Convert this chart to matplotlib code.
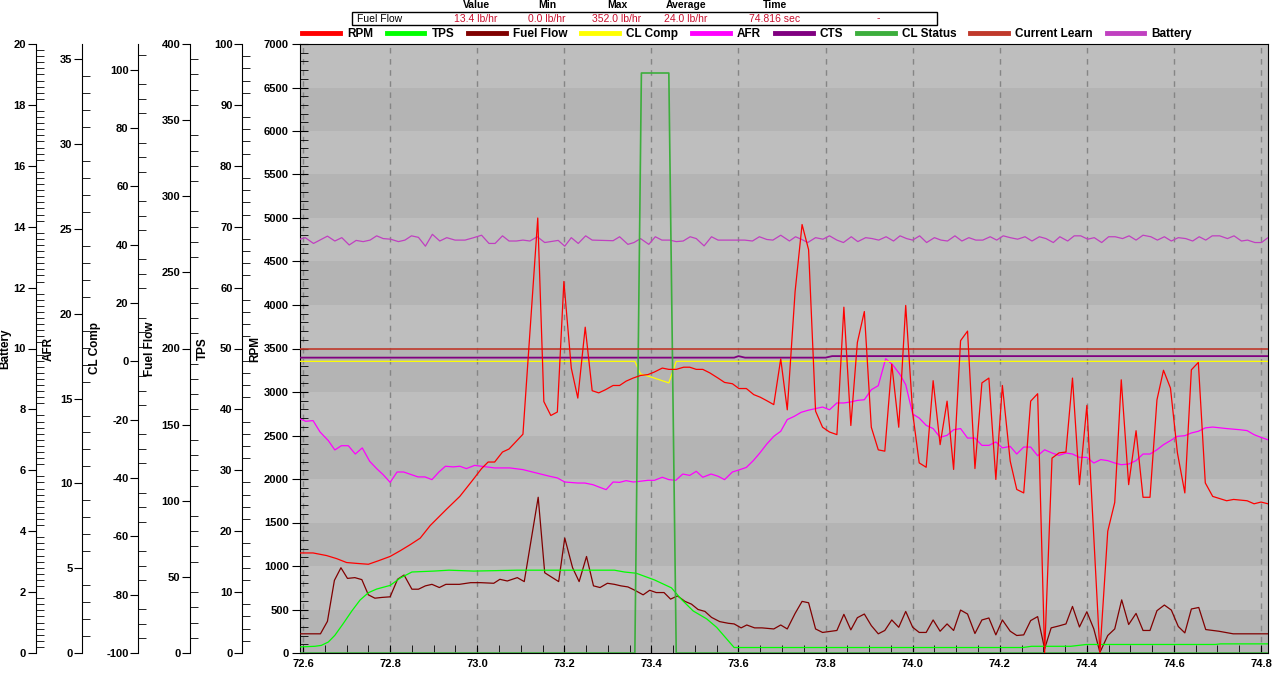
import matplotlib
matplotlib.use("Agg")
import matplotlib.pyplot as plt
from matplotlib.lines import Line2D
from matplotlib.patches import Rectangle
from matplotlib.ticker import MultipleLocator, FormatStrFormatter

plt.rcParams['font.family'] = ['Liberation Sans', 'DejaVu Sans']
plt.rcParams['font.size'] = 8
plt.rcParams['axes.unicode_minus'] = False

# ---- data (time in seconds) ----
rpm_t = [72.593, 72.623, 72.654, 72.677, 72.700, 72.723, 72.750, 72.773, 72.800, 72.823,
         72.846, 72.869, 72.892, 72.929, 72.960, 72.990, 73.010, 73.025, 73.040, 73.058,
         73.073, 73.090, 73.105, 73.139, 73.153, 73.169, 73.184, 73.199, 73.216, 73.231,
         73.248, 73.264, 73.279, 73.294, 73.312, 73.327, 73.342, 73.358, 73.375, 73.392,
         73.407, 73.425, 73.440, 73.457, 73.474, 73.488, 73.503, 73.518, 73.534, 73.553,
         73.568, 73.586, 73.601, 73.618, 73.635, 73.650, 73.665, 73.681, 73.697, 73.712,
         73.730, 73.746, 73.761, 73.777, 73.793, 73.809, 73.826, 73.842, 73.858, 73.873,
         73.889, 73.905, 73.921, 73.936, 73.952, 73.968, 73.984, 74.000, 74.015, 74.031,
         74.047, 74.063, 74.079, 74.094, 74.110, 74.126, 74.143, 74.159, 74.175, 74.191,
         74.206, 74.224, 74.239, 74.255, 74.271, 74.287, 74.303, 74.320, 74.336, 74.352,
         74.367, 74.383, 74.400, 74.430, 74.448, 74.464, 74.479, 74.496, 74.513, 74.529,
         74.545, 74.561, 74.576, 74.592, 74.608, 74.625, 74.640, 74.656, 74.672, 74.689,
         74.721, 74.737, 74.768, 74.784, 74.800, 74.816]
rpm = [1150, 1150, 1120, 1085, 1040, 1030, 1020, 1060, 1110, 1175,
       1245, 1320, 1465, 1650, 1800, 1990, 2120, 2195, 2195, 2310,
       2345, 2435, 2515, 5000, 2890, 2730, 2770, 4270, 3275, 2930,
       3745, 3015, 2990, 3025, 3075, 3075, 3125, 3160, 3190, 3200,
       3230, 3275, 3260, 3260, 3285, 3285, 3260, 3260, 3220, 3160,
       3110, 3095, 3040, 3040, 2970, 2940, 2900, 2855, 3380, 2795,
       4155, 4925, 4635, 2780, 2595, 2540, 2510, 3975, 2615, 3570,
       3925, 2595, 2335, 2320, 3320, 2595, 3995, 2760, 2185, 2135,
       3130, 2395, 2895, 2110, 3590, 3700, 2120, 3105, 3160, 1995,
       3075, 2205, 1880, 1840, 2895, 2980, 0, 2240, 2300, 2310,
       3160, 1935, 2845, 0, 1400, 1730, 3140, 1935, 2555, 1790,
       1790, 2910, 3250, 3045, 2300, 1840, 3255, 3340, 1955, 1800,
       1750, 1765, 1750, 1715, 1735, 1715]

tps_t = [72.593, 72.627, 72.642, 72.658, 72.673, 72.692, 72.712, 72.731, 72.750, 72.769,
         72.800, 72.823, 72.850, 72.900, 72.935, 72.992, 73.092, 73.315, 73.338, 73.365,
         73.407, 73.446, 73.469, 73.496, 73.527, 73.550, 73.573, 73.590, 74.253, 74.273,
         74.363, 74.399, 74.695, 74.707, 74.816]
tps = [1.0, 1.1, 1.25, 1.8, 2.9, 4.8, 6.9, 8.7, 9.9, 10.5,
       11.1, 12.3, 13.3, 13.45, 13.6, 13.45, 13.6, 13.6, 13.3, 13.1,
       12.0, 10.7, 8.8, 6.9, 5.6, 4.2, 2.3, 0.9, 0.9, 1.1,
       1.1, 1.4, 1.4, 1.5, 1.5]

fuel_t = [72.593, 72.640, 72.656, 72.672, 72.687, 72.702, 72.719, 72.735, 72.750, 72.765,
          72.781, 72.800, 72.817, 72.832, 72.850, 72.865, 72.881, 72.896, 72.913, 72.928,
          72.959, 72.985, 73.008, 73.038, 73.052, 73.069, 73.092, 73.108, 73.140, 73.155,
          73.187, 73.201, 73.219, 73.234, 73.251, 73.267, 73.282, 73.299, 73.315, 73.330,
          73.346, 73.362, 73.381, 73.396, 73.411, 73.429, 73.444, 73.460, 73.477, 73.492,
          73.507, 73.523, 73.538, 73.557, 73.577, 73.590, 73.606, 73.619, 73.637, 73.654,
          73.681, 73.697, 73.712, 73.730, 73.746, 73.761, 73.777, 73.793, 73.826, 73.842,
          73.858, 73.873, 73.889, 73.905, 73.921, 73.936, 73.952, 73.968, 73.984, 74.000,
          74.015, 74.031, 74.047, 74.063, 74.079, 74.094, 74.110, 74.126, 74.143, 74.159,
          74.175, 74.191, 74.206, 74.224, 74.239, 74.255, 74.271, 74.287, 74.303, 74.318,
          74.336, 74.352, 74.367, 74.383, 74.400, 74.416, 74.430, 74.448, 74.464, 74.480,
          74.496, 74.513, 74.529, 74.545, 74.561, 74.578, 74.594, 74.610, 74.625, 74.640,
          74.657, 74.673, 74.703, 74.736, 74.816]
fuel = [12.6, 12.6, 20.8, 47.7, 56.0, 49.0, 49.5, 48.2, 38.2, 36.0,
        36.5, 36.9, 48.4, 51.2, 41.9, 41.9, 44.1, 45.1, 43.0, 45.1,
        45.1, 46.2, 46.2, 45.8, 48.4, 47.3, 49.5, 46.9, 102.3, 52.7,
        46.9, 75.5, 56.0, 46.9, 63.4, 44.1, 43.0, 45.8, 45.1, 44.1,
        43.4, 41.2, 38.2, 41.2, 39.7, 39.7, 35.4, 37.5, 33.9, 32.1,
        28.6, 27.3, 23.4, 20.6, 19.5, 19.1, 16.5, 18.4, 16.5, 16.5,
        15.8, 18.4, 15.8, 26.0, 33.9, 33.0, 15.8, 13.5, 14.8, 25.4,
        15.2, 23.2, 25.6, 18.0, 12.6, 14.8, 21.7, 16.9, 27.3, 16.9,
        13.5, 13.5, 21.7, 14.3, 19.1, 14.8, 28.2, 25.6, 12.8, 21.7,
        23.0, 11.9, 21.7, 14.3, 11.5, 11.9, 21.3, 23.9, 2.8, 16.5,
        17.8, 19.1, 30.6, 17.1, 27.1, 15.8, 0.4, 11.5, 15.8, 34.9,
        18.7, 26.0, 14.8, 14.8, 27.8, 31.5, 28.2, 17.4, 13.2, 28.9,
        29.9, 15.4, 14.3, 12.6, 12.6]

afr_t = [72.593, 72.606, 72.623, 72.639, 72.658, 72.673, 72.688, 72.704, 72.720, 72.736,
         72.753, 72.769, 72.784, 72.800, 72.816, 72.831, 72.849, 72.864, 72.880, 72.896,
         72.912, 72.927, 72.945, 72.960, 72.975, 72.994, 73.010, 73.040, 73.075, 73.105,
         73.136, 73.166, 73.184, 73.201, 73.231, 73.247, 73.266, 73.281, 73.296, 73.312,
         73.327, 73.342, 73.358, 73.373, 73.392, 73.407, 73.425, 73.440, 73.456, 73.472,
         73.488, 73.503, 73.518, 73.537, 73.553, 73.568, 73.586, 73.601, 73.618, 73.634,
         73.649, 73.665, 73.681, 73.697, 73.712, 73.728, 73.744, 73.760, 73.777, 73.793,
         73.809, 73.826, 73.842, 73.858, 73.873, 73.889, 73.905, 73.921, 73.938, 73.954,
         73.970, 73.984, 74.000, 74.015, 74.031, 74.047, 74.063, 74.079, 74.094, 74.110,
         74.126, 74.143, 74.159, 74.175, 74.191, 74.206, 74.224, 74.239, 74.255, 74.271,
         74.287, 74.303, 74.320, 74.336, 74.352, 74.367, 74.383, 74.400, 74.416, 74.432,
         74.448, 74.464, 74.479, 74.496, 74.513, 74.529, 74.545, 74.561, 74.576, 74.592,
         74.608, 74.625, 74.640, 74.656, 74.672, 74.689, 74.721, 74.752, 74.768, 74.784,
         74.800, 74.816]
afr = [13.80, 13.66, 13.70, 13.03, 12.52, 11.97, 12.22, 12.22, 11.73, 12.09,
       11.30, 10.87, 10.51, 10.06, 10.67, 10.67, 10.51, 10.38, 10.38, 10.22,
       10.67, 11.01, 10.97, 11.01, 10.87, 11.06, 11.01, 10.91, 10.91, 10.81,
       10.61, 10.42, 10.32, 10.08, 10.02, 10.02, 9.92, 9.77, 9.63, 10.08,
       10.06, 10.16, 10.08, 10.12, 10.18, 10.18, 10.36, 10.22, 10.18, 10.55,
       10.47, 10.71, 10.36, 10.55, 10.42, 10.22, 10.67, 10.79, 10.94, 11.34,
       11.79, 12.32, 12.77, 13.07, 13.76, 13.95, 14.19, 14.31, 14.41, 14.50,
       14.34, 14.74, 14.74, 14.80, 14.89, 14.93, 15.52, 15.76, 17.35, 16.99,
       16.45, 15.82, 14.09, 13.85, 13.42, 13.23, 12.71, 12.83, 13.16, 13.23,
       12.67, 12.67, 12.24, 12.24, 12.44, 12.09, 12.18, 11.73, 12.14, 12.14,
       11.63, 11.98, 11.79, 11.65, 11.79, 11.73, 11.53, 11.53, 11.20, 11.40,
       11.34, 11.20, 11.10, 11.14, 11.34, 11.73, 11.73, 11.98, 12.28, 12.52,
       12.77, 12.81, 12.97, 13.07, 13.27, 13.32, 13.23, 13.16, 13.11, 12.87,
       12.71, 12.57]

battery_t = [72.593, 72.605, 72.624, 72.656, 72.673, 72.689, 72.706, 72.722, 72.738, 72.754,
             72.769, 72.784, 72.801, 72.819, 72.834, 72.849, 72.865, 72.881, 72.897, 72.914,
             72.930, 72.949, 72.972, 72.992, 73.010, 73.027, 73.041, 73.058, 73.073, 73.090,
             73.105, 73.121, 73.138, 73.155, 73.186, 73.201, 73.216, 73.232, 73.249, 73.264,
             73.312, 73.327, 73.346, 73.360, 73.375, 73.394, 73.409, 73.424, 73.442, 73.457,
             73.473, 73.489, 73.503, 73.521, 73.538, 73.553, 73.583, 73.614, 73.632, 73.648,
             73.665, 73.679, 73.697, 73.717, 73.731, 73.744, 73.759, 73.777, 73.794, 73.809,
             73.826, 73.841, 73.859, 73.874, 73.892, 73.907, 73.922, 73.939, 73.956, 73.971,
             73.986, 74.000, 74.016, 74.032, 74.050, 74.065, 74.080, 74.097, 74.113, 74.129,
             74.145, 74.161, 74.178, 74.193, 74.208, 74.224, 74.241, 74.258, 74.274, 74.291,
             74.306, 74.323, 74.338, 74.356, 74.371, 74.386, 74.402, 74.417, 74.434, 74.450,
             74.465, 74.482, 74.497, 74.513, 74.529, 74.547, 74.562, 74.578, 74.594, 74.610,
             74.627, 74.643, 74.658, 74.673, 74.688, 74.705, 74.723, 74.738, 74.755, 74.769,
             74.786, 74.801, 74.816]
battery = [13.59, 13.64, 13.45, 13.69, 13.53, 13.64, 13.40, 13.55, 13.51, 13.56,
           13.70, 13.61, 13.59, 13.51, 13.56, 13.70, 13.65, 13.36, 13.75, 13.53,
           13.64, 13.56, 13.56, 13.64, 13.72, 13.45, 13.45, 13.70, 13.53, 13.53,
           13.56, 13.53, 13.67, 13.48, 13.55, 13.36, 13.64, 13.45, 13.70, 13.56,
           13.54, 13.67, 13.42, 13.48, 13.61, 13.42, 13.67, 13.56, 13.56, 13.51,
           13.53, 13.67, 13.61, 13.37, 13.67, 13.56, 13.56, 13.56, 13.53, 13.67,
           13.58, 13.56, 13.72, 13.53, 13.67, 13.59, 13.48, 13.64, 13.59, 13.70,
           13.56, 13.48, 13.67, 13.51, 13.64, 13.61, 13.56, 13.67, 13.53, 13.70,
           13.61, 13.56, 13.70, 13.48, 13.64, 13.56, 13.53, 13.70, 13.53, 13.64,
           13.56, 13.56, 13.67, 13.56, 13.70, 13.64, 13.59, 13.67, 13.53, 13.67,
           13.61, 13.48, 13.67, 13.53, 13.70, 13.70, 13.59, 13.64, 13.48, 13.67,
           13.67, 13.61, 13.70, 13.56, 13.72, 13.67, 13.56, 13.67, 13.53, 13.64,
           13.61, 13.53, 13.67, 13.56, 13.70, 13.70, 13.61, 13.70, 13.53, 13.56,
           13.48, 13.48, 13.64]

cl_comp_t = [72.593, 73.362, 73.375, 73.404, 73.440, 73.457, 74.816]
cl_comp = [0, 0, -4.3, -5.6, -7.4, 0, 0]

cl_status_t = [72.593, 73.362, 73.377, 73.440, 73.457, 74.816]
cl_status = [0, 0, 1, 1, 0, 0]

cts_t = [72.593, 73.590, 73.600, 73.615, 73.800, 73.815, 74.816]
cts = [194, 194, 195, 194, 194, 195, 195]

learn_t = [72.593, 74.816]
learn = [0, 0]

legend_labels = ['RPM', 'TPS', 'Fuel Flow', 'CL Comp', 'AFR', 'CTS',
                 'CL Status', 'Current Learn', 'Battery']
colors = {'RPM': '#ff0000', 'TPS': '#00ff00', 'Fuel Flow': '#800000',
          'CL Comp': '#ffff00', 'AFR': '#ff00ff', 'CTS': '#800080',
          'CL Status': '#3cae3c', 'Current Learn': '#c0392b', 'Battery': '#c040c0'}

header_cols = ['Value', 'Min', 'Max', 'Average', 'Time']
header_vals = ['13.4 lb/hr', '0.0 lb/hr', '352.0 lb/hr', '24.0 lb/hr', '74.816 sec']

W, H = 1280, 674


def fx(px):
    return px / W


def fy(py):
    return 1 - py / H


fig = plt.figure(figsize=(12.8, 6.74), dpi=100)
ax = fig.add_axes([fx(300), 21 / H, 968 / W, 609 / H])

# RPM host axis with banded background
ax.set_xlim(72.593, 74.816)
ax.set_ylim(0, 7000)
for lo in range(0, 7000, 500):
    ax.axhspan(lo, lo + 500, color='#b4b4b4' if (lo // 500) % 2 == 0 else '#bebebe',
               lw=0, zorder=0)
ax.xaxis.set_major_locator(MultipleLocator(0.2))
ax.xaxis.set_minor_locator(MultipleLocator(0.05))
ax.xaxis.set_major_formatter(FormatStrFormatter('%.1f'))
ax.yaxis.set_major_locator(MultipleLocator(500))
ax.yaxis.set_minor_locator(MultipleLocator(100))
ax.xaxis.grid(True, which='major', color='#858585', ls=(0, (4, 4)), lw=1)
ax.tick_params(axis='x', which='both', direction='in', length=6, pad=4)
ax.tick_params(axis='y', which='major', direction='inout', length=12, pad=2)
ax.tick_params(axis='y', which='minor', direction='in', length=6)
for lab in ax.get_xticklabels() + ax.get_yticklabels():
    lab.set_fontweight('bold')
ax.set_ylabel('RPM', fontweight='bold', fontsize=8.5)
ax.yaxis.set_label_coords(-0.040, 0.5)
for s in ax.spines.values():
    s.set_color('black')


def side_axis(ylim, spine_x, label, label_x, major, minor):
    a = ax.twinx()
    a.set_ylim(*ylim)
    for side in ['right', 'top', 'bottom']:
        a.spines[side].set_visible(False)
    a.spines['left'].set_visible(True)
    a.spines['left'].set_position(('axes', spine_x))
    a.yaxis.set_ticks_position('left')
    a.yaxis.set_label_position('left')
    a.yaxis.set_major_locator(MultipleLocator(major))
    a.yaxis.set_minor_locator(MultipleLocator(minor))
    a.tick_params(axis='y', which='major', direction='out', length=6, pad=1)
    a.tick_params(axis='y', which='minor', direction='in', length=6)
    for lab in a.get_yticklabels():
        lab.set_fontweight('bold')
    a.set_ylabel(label, fontweight='bold', fontsize=8.5)
    a.yaxis.set_label_coords(label_x, 0.5)
    return a


def hidden_axis(ylim):
    a = ax.twinx()
    a.set_ylim(*ylim)
    a.set_axis_off()
    return a


ax_bat = side_axis((0, 20), -0.2732, 'Battery', -0.2986, 2, 0.2)
ax_afr = side_axis((0, 35.9), -0.2249, 'AFR', -0.2531, 5, 1)
ax_clc = side_axis((-100, 108.8), -0.1671, 'CL Comp', -0.2056, 20, 5)
ax_ff = side_axis((0, 400), -0.1136, 'Fuel Flow', -0.1488, 50, 10)
ax_tps = side_axis((0, 100), -0.0596, 'TPS', -0.0940, 10, 2)
ax_cts = hidden_axis((0, 400))
ax_cls = hidden_axis((0, 1.05))
ax_learn = hidden_axis((-100, 100))
ax_rpm = hidden_axis((0, 7000))

lw = 0.9
ax_bat.plot(battery_t, battery, color=colors['Battery'], lw=lw)
ax_afr.plot(afr_t, afr, color=colors['AFR'], lw=lw)
ax_clc.plot(cl_comp_t, cl_comp, color=colors['CL Comp'], lw=lw)
ax_ff.plot(fuel_t, fuel, color=colors['Fuel Flow'], lw=lw)
ax_tps.plot(tps_t, tps, color=colors['TPS'], lw=lw)
ax_cts.plot(cts_t, cts, color=colors['CTS'], lw=1.3)
ax_cls.plot(cl_status_t, cl_status, color=colors['CL Status'], lw=1.2)
ax_learn.plot(learn_t, learn, color=colors['Current Learn'], lw=1.2)
ax_rpm.plot(rpm_t, rpm, color=colors['RPM'], lw=lw)

# legend row
handles = [Line2D([], [], color=colors[k], lw=3.5) for k in legend_labels]
fig.legend(handles, legend_labels, loc='center left', bbox_to_anchor=(fx(302), fy(34)),
           ncol=len(legend_labels), frameon=False, handlelength=3.2, handletextpad=0.6,
           columnspacing=1.17, borderpad=0, borderaxespad=0,
           prop={'weight': 'bold', 'size': 8.5})

# value table above the legend
fig.add_artist(Rectangle((fx(352), fy(25)), fx(937) - fx(352), 13 / H,
                         transform=fig.transFigure, fill=False, ec='black', lw=1))
col_x = [476, 547, 617, 686, 775]
for x, name, val in zip(col_x, header_cols, header_vals):
    fig.text(fx(x), fy(5), name, ha='center', va='center', fontsize=7.5, fontweight='bold')
    fig.text(fx(x), fy(18.5), val, ha='center', va='center', fontsize=7.5, color='#c8102e')
fig.text(fx(357), fy(18.5), 'Fuel Flow', ha='left', va='center', fontsize=7.5)
fig.text(fx(878), fy(18.5), '-', ha='center', va='center', fontsize=7.5, color='#c8102e')

fig.savefig('out.png', dpi=100)
